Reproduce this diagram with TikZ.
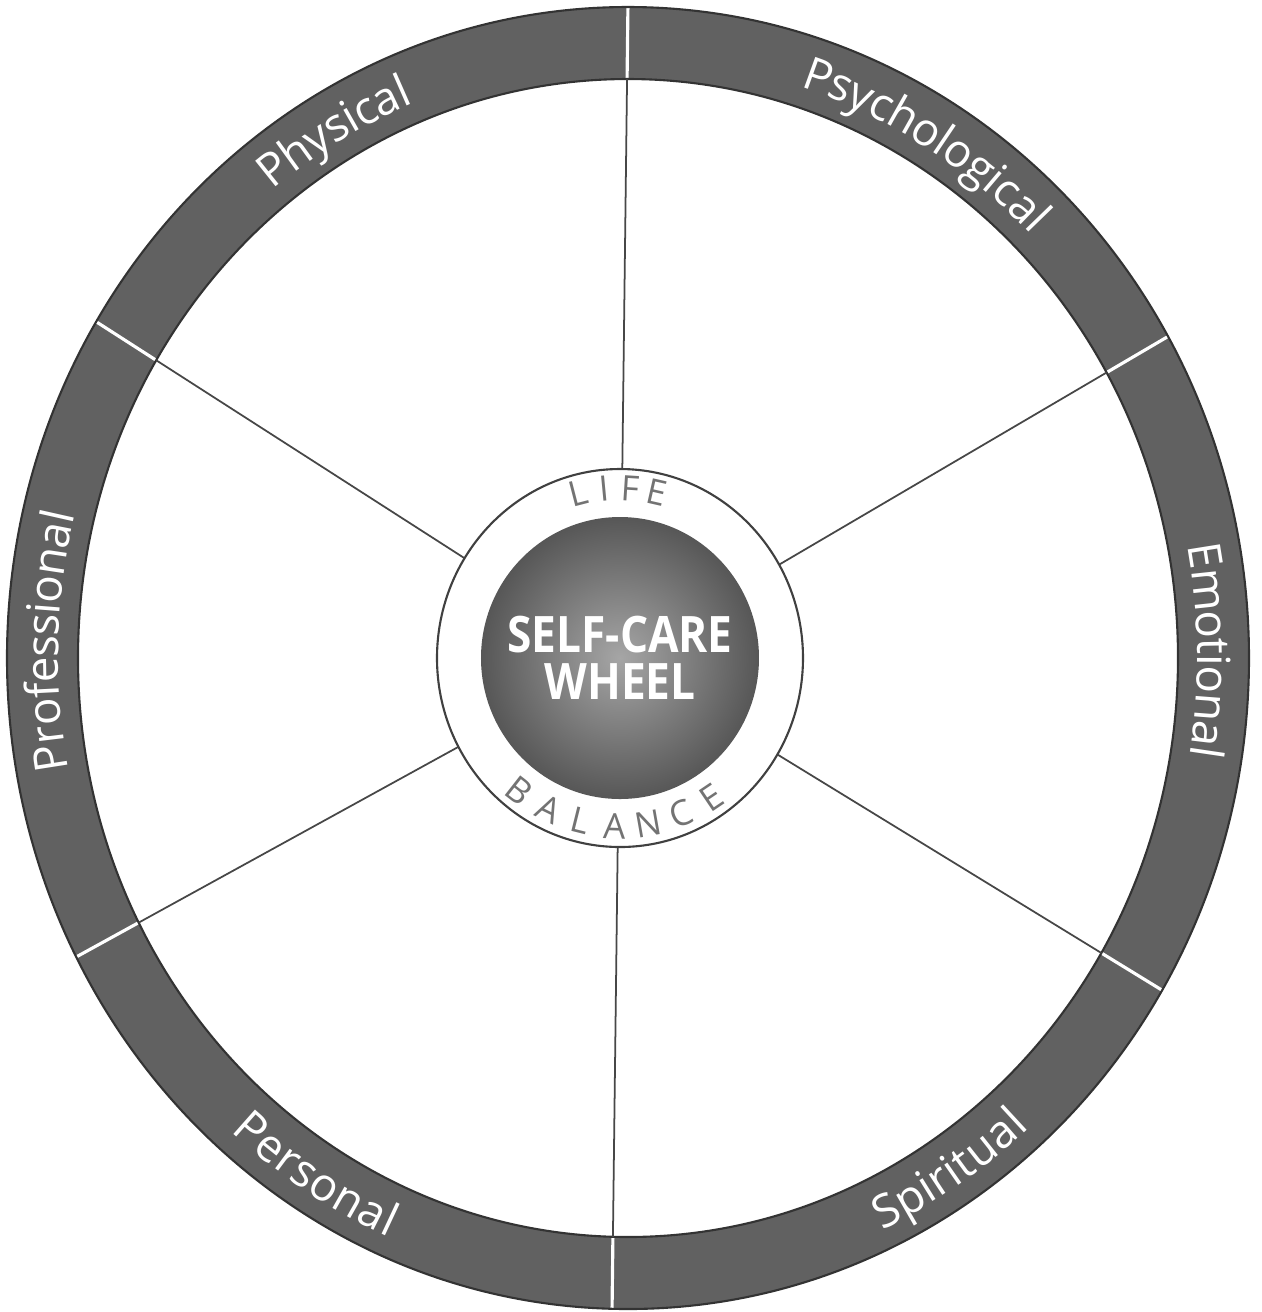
\documentclass[tikz,border=0pt]{standalone}
\usepackage{fontspec}
\setmainfont{Open Sans}
\usetikzlibrary{calc,decorations.text}

\newcommand{\outrx}{6.21cm}
\newcommand{\outry}{6.51cm}
\newcommand{\inrx}{5.50cm}
\newcommand{\inry}{5.79cm}
\newcommand{\midrx}{5.855cm}
\newcommand{\midry}{6.15cm}

\tikzset{
  bandfill/.style={fill=black!62},
  edge/.style={draw=black!80, line width=0.6pt},
  spoke/.style={draw=black!72, line width=0.5pt},
  divider/.style={draw=white, line width=0.9pt},
  ringlabel/.style={decorate, decoration={text along path, text align=center,
      raise=-1.6mm, text={|\color{white}\fontsize{13}{13}\selectfont|#1}}},
  hubletter/.style={text=black!55, font=\fontsize{10}{10}\selectfont, inner sep=0pt},
}

\begin{document}
\begin{tikzpicture}
    \useasboundingbox (0,0) rectangle (12.62,-13.12);
    \coordinate (O) at (6.28,-6.58);   % wheel centre
    \coordinate (C) at (6.20,-6.58);   % hub centre

    % outer band with white dividers
    \fill[bandfill] (O) ellipse [x radius=\outrx, y radius=\outry];
    \begin{scope}
        \clip (O) ellipse [x radius=\outrx, y radius=\outry];
        \foreach \a in {30.4,89.3,147.3,208.8,269.3,328.5}
            \draw[divider] (C) -- ++(\a:7);
    \end{scope}
    \fill[white] (O) ellipse [x radius=\inrx, y radius=\inry];
    \draw[edge] (O) ellipse [x radius=\outrx, y radius=\outry];
    \draw[edge] (O) ellipse [x radius=\inrx, y radius=\inry];

    % spokes inside the band
    \begin{scope}
        \clip (O) ellipse [x radius=\inrx, y radius=\inry];
        \foreach \a in {30.4,89.3,147.3,208.8,269.3,328.5}
            \draw[spoke] (C) -- ++(\a:7);
    \end{scope}

    % labels on the band: top half clockwise, bottom half counter-clockwise
    \path[ringlabel=Psychological] ($(O)+(94:5.855 and 6.15)$)
        arc [start angle=94, end angle=24, x radius=\midrx, y radius=\midry];
    \path[ringlabel=Physical] ($(O)+(155:5.855 and 6.15)$)
        arc [start angle=155, end angle=85, x radius=\midrx, y radius=\midry];
    \path[ringlabel=Emotional] ($(O)+(35.7:5.855 and 6.15)$)
        arc [start angle=35.7, end angle=-34.3, x radius=\midrx, y radius=\midry];
    \path[ringlabel=Professional] ($(O)+(213.4:5.855 and 6.15)$)
        arc [start angle=213.4, end angle=143.4, x radius=\midrx, y radius=\midry];
    \path[ringlabel=Personal] ($(O)+(203:5.855 and 6.15)$)
        arc [start angle=203, end angle=273, x radius=\midrx, y radius=\midry];
    \path[ringlabel=Spiritual] ($(O)+(268:5.855 and 6.15)$)
        arc [start angle=268, end angle=338, x radius=\midrx, y radius=\midry];

    % hub
    \filldraw[fill=white, draw=black!75, line width=0.6pt]
        (C) ellipse [x radius=1.83, y radius=1.89];
    \shade[inner color=black!35, outer color=black!66]
        (C) ellipse [x radius=1.39, y radius=1.41];
    \node[text=white, align=center, xscale=0.88,
          font=\bfseries\fontsize{14.3}{13.3}\selectfont] (title) at (C) {SELF-CARE\\WHEEL};

    \foreach \ch [count=\i] in {L,I,F,E} {
        \pgfmathsetmacro\ang{104.5-9.1*(\i-1)}
        \node[hubletter, rotate=\ang-90] (life\i) at ($(C)+(\ang:1.66 and 1.70)$) {\ch};
    }
    \foreach \ch [count=\i] in {B,A,L,A,N,C,E} {
        \pgfmathsetmacro\ang{232+12*(\i-1)}
        \node[hubletter, rotate=\ang+90] (bal\i) at ($(C)+(\ang:1.63 and 1.68)$) {\ch};
    }
\end{tikzpicture}
\end{document}
